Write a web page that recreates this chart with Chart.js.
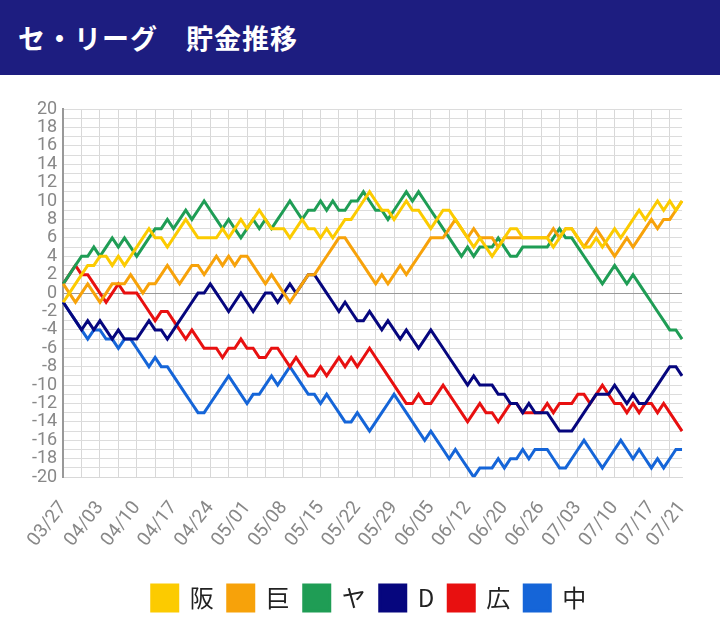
<!DOCTYPE html>
<html>
<head>
<meta charset="utf-8">
<script src="https://cdn.jsdelivr.net/npm/chart.js@4"></script>
<style>
  body { margin: 0; width: 720px; height: 623px; background: #fff; overflow: hidden; font-family: "Noto Sans CJK JP", sans-serif; }
  .head { height: 75px; background: #1d1d80; color: #fff; font-size: 27px; font-weight: bold; line-height: 75px; padding-left: 18px; letter-spacing: 1px; }
  .box { position: relative; width: 720px; height: 548px; }
</style>
</head>
<body>
<div class="head">セ・リーグ　貯金推移</div>
<div class="box"><canvas id="c"></canvas></div>
<script>
// 目盛りラベル(6試合ごと)
const tickLabels = ['03/27','04/03','04/10','04/17','04/24','05/01','05/08','05/15','05/22','05/29','06/05','06/12','06/20','06/26','07/03','07/10','07/17'];
const lastLabel = '07/21';
const teams = ['阪', '巨', 'ヤ', 'D', '広', '中'];
const colors = ['#fccb00', '#f7a20a', '#1f9d55', '#06067e', '#e81010', '#1565d8'];

const hanshin = [-1,0,1,2,3,3,4,4,3,4, 3,4,5,6,7,6,6,5,6,7, 8,7,6,6,6,6,7,6,7,8, 7,8,9,8,7,7,7,6,7,8, 7,7,6,7,6,7,8,8,9,10, 11,10,9,9,8,9,10,9,9,8, 7,8,9,9,8,7,6,5,6,5, 4,5,6,7,7,6,6,6,6,6, 5,6,7,7,6,5,5,6,5,6, 7,6,7,8,9,8,9,10,9,10,9,10];
const kyojin = [1,0,-1,0,1,0,-1,0,1,1, 1,2,1,0,1,1,2,3,2,1, 2,3,3,2,3,4,3,4,3,4, 4,3,2,1,2,1,0,-1,0,1, 2,2,3,4,5,6,6,5,4,3, 2,1,2,1,2,3,2,3,4,5, 6,6,6,7,8,7,6,7,6,6, 6,5,6,6,6,6,6,6,6,6, 7,6,7,7,6,5,6,7,6,5, 4,5,6,5,6,7,8,7,8,8,9,10];
const yakult = [1,2,3,4,4,5,4,5,6,5, 6,5,4,5,6,7,7,8,7,8, 9,8,9,10,9,8,7,8,7,6, 7,8,7,8,7,8,9,10,9,8, 9,9,10,9,10,9,9,10,10,11, 10,9,9,8,9,10,11,10,11,10, 9,8,7,6,5,4,5,4,5,5, 5,6,5,4,4,5,5,5,5,5, 6,7,6,6,5,4,3,2,1,2, 3,2,1,2,1,0,-1,-2,-3,-4,-4,-5];
const dena = [-1,-2,-3,-4,-3,-4,-3,-4,-5,-4, -5,-5,-5,-4,-3,-4,-4,-5,-4,-3, -2,-1,0,0,1,0,-1,-2,-1,0, -1,-2,-1,0,0,-1,0,1,0,1, 2,2,1,0,-1,-2,-1,-2,-3,-3, -2,-3,-4,-3,-4,-5,-4,-5,-6,-5, -4,-5,-6,-7,-8,-9,-10,-9,-10,-10, -10,-11,-11,-12,-12,-13,-12,-13,-13,-13, -14,-15,-15,-15,-14,-13,-12,-11,-11,-11, -10,-11,-12,-11,-12,-12,-11,-10,-9,-8,-8,-9];
const hiroshima = [1,2,3,2,2,1,0,-1,0,1, 0,0,0,-1,-2,-3,-2,-2,-3,-4, -5,-4,-5,-6,-6,-6,-7,-6,-6,-5, -6,-6,-7,-7,-6,-6,-7,-8,-7,-8, -9,-9,-8,-9,-8,-7,-8,-7,-8,-7, -6,-7,-8,-9,-10,-11,-12,-12,-11,-12, -12,-11,-10,-11,-12,-13,-14,-13,-12,-13, -13,-14,-13,-12,-12,-13,-13,-13,-13,-12, -13,-12,-12,-12,-11,-11,-12,-11,-10,-11, -12,-12,-13,-12,-13,-12,-12,-13,-12,-13,-14,-15];
const chunichi = [-1,-2,-3,-4,-5,-4,-4,-5,-5,-6, -5,-5,-6,-7,-8,-7,-8,-8,-9,-10, -11,-12,-13,-13,-12,-11,-10,-9,-10,-11, -12,-11,-11,-10,-9,-10,-9,-8,-9,-10, -11,-11,-12,-11,-12,-13,-14,-14,-13,-14, -15,-14,-13,-12,-11,-12,-13,-14,-15,-16, -15,-16,-17,-18,-17,-18,-19,-20,-19,-19, -19,-18,-19,-18,-18,-17,-18,-17,-17,-17, -18,-19,-19,-18,-17,-16,-17,-18,-19,-18, -17,-16,-17,-18,-17,-18,-19,-18,-19,-18,-17,-17];

const series = [hanshin, kyojin, yakult, dena, hiroshima, chunichi];
const categories = hanshin.map((v, i) => i);

new Chart(document.getElementById('c'), {
  type: 'line',
  data: {
    labels: categories,
    datasets: series.map((s, i) => ({
      label: teams[i],
      data: s,
      borderColor: colors[i],
      backgroundColor: colors[i],
      borderWidth: 3,
      pointRadius: 0,
      tension: 0
    }))
  },
  options: {
    responsive: true,
    maintainAspectRatio: false,
    animation: false,
    layout: { padding: { top: 34, right: 8, left: 26, bottom: 2 } },
    plugins: {
      legend: {
        position: 'bottom',
        labels: {
          boxWidth: 26, boxHeight: 26, padding: 14,
          color: '#222',
          font: { size: 24, family: '"Noto Sans CJK JP", sans-serif' }
        }
      },
      tooltip: { enabled: false }
    },
    scales: {
      x: {
        grid: {
          color: ctx => (ctx.index % 3 === 0 ? '#d8d8d8' : 'rgba(0,0,0,0)'),
          drawTicks: false
        },
        border: { color: '#d8d8d8' },
        ticks: {
          autoSkip: false,
          minRotation: 52, maxRotation: 52,
          color: '#888', padding: 20,
          font: { size: 19, family: 'Roboto' },
          callback: (v, i) => {
            if (i === categories.length - 1) return lastLabel;
            return i % 6 === 0 ? tickLabels[i / 6] : '';
          }
        }
      },
      y: {
        min: -20, max: 20,
        grid: {
          color: ctx => (ctx.tick.value === 0 ? '#999' : '#dcdcdc'),
          drawTicks: false
        },
        border: { color: '#999', width: 2 },
        ticks: {
          stepSize: 1, autoSkip: false, padding: 6,
          color: '#888',
          font: { size: 18, family: 'Roboto' },
          callback: v => (v % 2 === 0 ? v : '')
        }
      }
    }
  }
});
</script>
</body>
</html>
